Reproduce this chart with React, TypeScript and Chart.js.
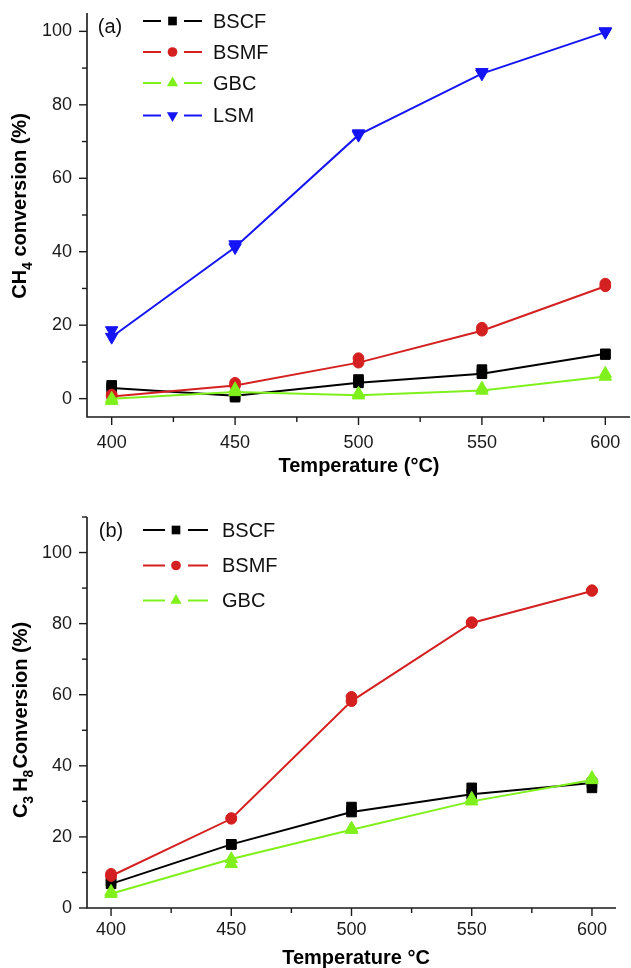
import React, { useEffect, useRef } from 'react';
import { Chart, registerables } from 'chart.js';

Chart.register(...registerables);

// ---------- data ----------
const temperatures = [400, 450, 500, 550, 600];
const xTickValues = [400, 450, 500, 550, 600];
const xMinorTickValues = [425, 475, 525, 575];

// Panel (a): CH4 conversion (%) – line value and replicate marker
const ch4BSCF = [2.9, 0.8, 4.3, 6.8, 12.2];
const ch4BSCFRepeat = [3.6, 0.4, 5.2, 7.9, 12.0];
const ch4BSMF = [0.6, 3.6, 9.8, 18.5, 30.6];
const ch4BSMFRepeat = [1.1, 4.3, 11.0, 19.3, 31.3];
const ch4GBC = [0.0, 1.8, 0.9, 2.2, 6.0];
const ch4GBCRepeat = [-0.6, 2.6, 1.4, 2.8, 6.8];
const ch4LSM = [16.8, 41.2, 71.8, 88.5, 99.8];
const ch4LSMRepeat = [18.6, 42.0, 72.2, 88.9, 100.0];
const ch4YTicks = [0, 20, 40, 60, 80, 100];
const ch4YMinorTicks = [10, 30, 50, 70, 90];

// Panel (b): C3H8 conversion (%)
const c3h8BSCF = [6.8, 17.9, 27.0, 32.0, 35.2];
const c3h8BSCFRepeat = [7.6, 17.9, 28.4, 33.8, 33.8];
const c3h8BSMF = [9.0, 25.1, 58.2, 80.2, 89.2];
const c3h8BSMFRepeat = [9.6, 25.3, 59.4, 80.4, 89.4];
const c3h8GBC = [4.0, 13.8, 22.0, 30.0, 36.0];
const c3h8GBCRepeat = [4.6, 12.4, 22.4, 30.8, 36.6];
const c3h8YTicks = [0, 20, 40, 60, 80, 100];
const c3h8YMinorTicks = [10, 30, 50, 70, 90, 110];

const labelsA = ['BSCF', 'BSMF', 'GBC', 'LSM'];
const labelsB = ['BSCF', 'BSMF', 'GBC'];

// ---------- styles ----------
const FONT = "'Liberation Sans', Arial, Helvetica, sans-serif";
const AXIS = '#1a1a1a';
const STYLE: Record<string, any> = {
  BSCF: { color: '#000000', style: 'rect', rotation: 0, radius: 6.8, order: 3 },
  BSMF: { color: '#d42020', style: 'circle', rotation: 0, radius: 5.4, order: 2 },
  GBC: { color: '#7ff01c', style: 'triangle', rotation: 0, radius: 7.2, order: 1 },
  LSM: { color: '#1414f5', style: 'triangle', rotation: 180, radius: 7.2, order: 0 },
};

function buildDatasets(labels: string[], lines: number[][], reps: number[][]) {
  const out: any[] = [];
  labels.forEach((label, k) => {
    const s = STYLE[label];
    const common = {
      borderColor: s.color,
      backgroundColor: s.color,
      pointBackgroundColor: s.color,
      pointBorderColor: s.color,
      pointStyle: s.style,
      pointRotation: s.rotation,
      pointRadius: s.radius,
      pointBorderWidth: 1,
      borderWidth: 2,
      tension: 0,
      order: s.order,
    };
    out.push({
      ...common,
      label,
      data: temperatures.map((t, i) => ({ x: t, y: lines[k][i] })),
      showLine: true,
    });
    out.push({
      ...common,
      label: label + ' (repeat)',
      data: temperatures.map((t, i) => ({ x: t, y: reps[k][i] })),
      showLine: false,
    });
  });
  return out;
}

function drawMarker(ctx: CanvasRenderingContext2D, style: string, rotation: number, x: number, y: number, r: number, color: string) {
  ctx.save();
  ctx.fillStyle = color;
  ctx.beginPath();
  if (style === 'rect') {
    const h = r * Math.SQRT1_2;
    ctx.rect(x - h, y - h, 2 * h, 2 * h);
  } else if (style === 'circle') {
    ctx.arc(x, y, r, 0, Math.PI * 2);
  } else {
    let rad = (rotation * Math.PI) / 180;
    for (let i = 0; i < 3; i++) {
      const px = x + Math.sin(rad) * r;
      const py = y - Math.cos(rad) * r;
      if (i === 0) ctx.moveTo(px, py);
      else ctx.lineTo(px, py);
      rad += (2 * Math.PI) / 3;
    }
    ctx.closePath();
  }
  ctx.fill();
  ctx.restore();
}

function drawRich(ctx: CanvasRenderingContext2D, segs: any[], cx: number, cy: number, rotate: boolean, size: number) {
  ctx.save();
  ctx.translate(cx, cy);
  if (rotate) ctx.rotate(-Math.PI / 2);
  const fontFor = (s: any) => `bold ${s.sub ? Math.round(size * 0.68) : size}px ${FONT}`;
  let total = 0;
  const widths = segs.map((s) => {
    ctx.font = fontFor(s);
    const w = ctx.measureText(s.t).width + (s.gap || 0);
    total += w;
    return w;
  });
  let x = -total / 2;
  ctx.fillStyle = '#000';
  ctx.textAlign = 'left';
  ctx.textBaseline = 'alphabetic';
  const base = size * 0.36;
  segs.forEach((s, i) => {
    ctx.font = fontFor(s);
    ctx.fillText(s.t, x, base + (s.sub ? size * 0.3 : 0));
    x += widths[i];
  });
  ctx.restore();
}

const decoPlugin = {
  id: 'deco',
  afterDraw(chart: any, _args: any, o: any) {
    const { ctx, chartArea } = chart;
    const { left, right, top, bottom } = chartArea;
    const xs = chart.scales.x;
    const ys = chart.scales.y;
    ctx.save();
    ctx.strokeStyle = AXIS;
    ctx.lineWidth = 1.6;
    ctx.beginPath();
    ctx.moveTo(left, top);
    ctx.lineTo(left, bottom);
    ctx.lineTo(right, bottom);
    ctx.stroke();
    const seg = (x1: number, y1: number, x2: number, y2: number) => {
      ctx.beginPath();
      ctx.moveTo(x1, y1);
      ctx.lineTo(x2, y2);
      ctx.stroke();
    };
    ctx.lineWidth = 1.4;
    o.xMajor.forEach((v: number) => { const p = xs.getPixelForValue(v); seg(p, bottom, p, bottom + 8); });
    o.xMinor.forEach((v: number) => { const p = xs.getPixelForValue(v); seg(p, bottom, p, bottom + 5); });
    o.yMajor.forEach((v: number) => { const p = ys.getPixelForValue(v); seg(left - 8, p, left, p); });
    o.yMinor.forEach((v: number) => { const p = ys.getPixelForValue(v); seg(left - 5, p, left, p); });

    // panel tag
    ctx.fillStyle = '#111';
    ctx.font = `20px ${FONT}`;
    ctx.textAlign = 'center';
    ctx.textBaseline = 'middle';
    ctx.fillText(o.tag.text, o.tag.x, o.tag.y);

    // legend
    const lg = o.legend;
    lg.labels.forEach((label: string, i: number) => {
      const s = STYLE[label];
      const y = lg.rows[i];
      ctx.strokeStyle = s.color;
      ctx.lineWidth = 2;
      seg(lg.lineX[0], y, lg.lineX[1], y);
      seg(lg.lineX[2], y, lg.lineX[3], y);
      drawMarker(ctx, s.style, s.rotation, lg.markerX, y, s.radius * 0.9, s.color);
      ctx.fillStyle = '#111';
      ctx.font = `20px ${FONT}`;
      ctx.textAlign = 'left';
      ctx.textBaseline = 'middle';
      ctx.fillText(label, lg.textX, y + 1);
    });

    // axis titles
    drawRich(ctx, o.yTitle.segs, o.yTitle.x, o.yTitle.y, true, 20);
    drawRich(ctx, o.xTitle.segs, o.xTitle.x, o.xTitle.y, false, 20);
    ctx.restore();
  },
};

function makeConfig(p: any) {
  return {
    type: 'line',
    data: { datasets: p.datasets },
    plugins: [decoPlugin],
    options: {
      animation: false,
      responsive: false,
      maintainAspectRatio: false,
      layout: { autoPadding: false, padding: { left: 0, top: p.padTop, right: p.padRight, bottom: 0 } },
      plugins: {
        legend: { display: false },
        tooltip: { enabled: false },
        deco: p.deco,
      },
      scales: {
        x: {
          type: 'linear',
          position: 'bottom',
          min: 390,
          max: 610,
          afterBuildTicks: (s: any) => { s.ticks = xTickValues.map((v) => ({ value: v })); },
          afterFit: (s: any) => {
            s.height = p.xHeight;
            s.paddingLeft = 0;
            s.paddingRight = 0;
          },
          ticks: { font: { size: 18, family: FONT }, color: '#1a1a1a', padding: p.xPad, maxRotation: 0, autoSkip: false },
          grid: { display: false, drawTicks: false },
          border: { display: false },
        },
        y: {
          type: 'linear',
          position: 'left',
          min: p.yMin,
          max: p.yMax,
          afterBuildTicks: (s: any) => { s.ticks = p.yTicks.map((v: number) => ({ value: v })); },
          afterFit: (s: any) => {
            s.width = 87;
            s.paddingTop = 0;
            s.paddingBottom = 0;
          },
          ticks: { font: { size: 18, family: FONT }, color: '#1a1a1a', padding: 15 },
          grid: { display: false, drawTicks: false },
          border: { display: false },
        },
      },
    },
  };
}

function Panel({ config, top, height }: { config: () => any; top: number; height: number }) {
  const ref = useRef<HTMLCanvasElement | null>(null);
  useEffect(() => {
    const chart = new Chart(ref.current as HTMLCanvasElement, config());
    return () => chart.destroy();
  }, []);
  return (
    <canvas
      ref={ref}
      width={631}
      height={height}
      style={{ position: 'absolute', left: 0, top, width: 631, height, display: 'block' }}
    />
  );
}

const configA = () =>
  makeConfig({
    datasets: buildDatasets(
      labelsA,
      [ch4BSCF, ch4BSMF, ch4GBC, ch4LSM],
      [ch4BSCFRepeat, ch4BSMFRepeat, ch4GBCRepeat, ch4LSMRepeat]
    ),
    padTop: 13,
    padRight: 1,
    xHeight: 63,
    xPad: 15,
    yMin: -5,
    yMax: 105,
    yTicks: ch4YTicks,
    deco: {
      xMajor: xTickValues,
      xMinor: xMinorTickValues,
      yMajor: ch4YTicks,
      yMinor: ch4YMinorTicks,
      tag: { text: '(a)', x: 110, y: 27 },
      legend: { labels: labelsA, rows: [21, 52, 83, 115.5], lineX: [143, 161, 184, 202], markerX: 172.5, textX: 213 },
      yTitle: { segs: [{ t: 'CH' }, { t: '4', sub: true }, { t: ' conversion (%)' }], x: 19, y: 206 },
      xTitle: { segs: [{ t: 'Temperature (°C)' }], x: 359, y: 465 },
    },
  });

const configB = () =>
  makeConfig({
    datasets: buildDatasets(
      labelsB,
      [c3h8BSCF, c3h8BSMF, c3h8GBC],
      [c3h8BSCFRepeat, c3h8BSMFRepeat, c3h8GBCRepeat]
    ),
    padTop: 37,
    padRight: 15,
    xHeight: 60,
    xPad: 11,
    yMin: 0,
    yMax: 110,
    yTicks: c3h8YTicks,
    deco: {
      xMajor: xTickValues,
      xMinor: xMinorTickValues,
      yMajor: c3h8YTicks,
      yMinor: c3h8YMinorTicks,
      tag: { text: '(b)', x: 111, y: 51 },
      legend: { labels: labelsB, rows: [50, 85.5, 120.5], lineX: [143, 165, 188, 208], markerX: 176, textX: 222 },
      yTitle: {
        segs: [{ t: 'C' }, { t: '3', sub: true, gap: 4 }, { t: 'H' }, { t: '8', sub: true, gap: 1 }, { t: 'Conversion (%)' }],
        x: 20,
        y: 240,
      },
      xTitle: { segs: [{ t: 'Temperature °C' }], x: 356, y: 477 },
    },
  });

export default function App() {
  return (
    <div style={{ position: 'absolute', left: 0, top: 0, width: 631, height: 968, background: '#fff', overflow: 'hidden' }}>
      <Panel config={configA} top={0} height={480} />
      <Panel config={configB} top={480} height={488} />
    </div>
  );
}
